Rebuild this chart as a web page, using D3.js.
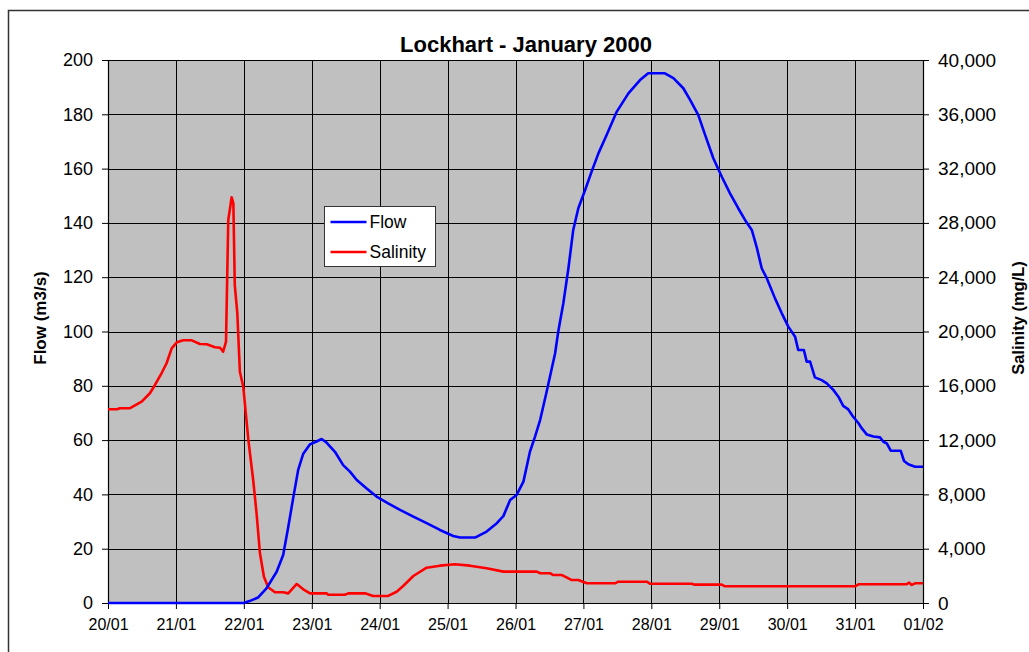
<!DOCTYPE html>
<html>
<head>
<meta charset="utf-8">
<script src="https://cdn.jsdelivr.net/npm/d3@7"></script>
<style>
  body { margin: 0; background: #fff; }
  svg { display: block; font-family: "Liberation Sans", Arial, Helvetica, sans-serif; }
</style>
</head>
<body>
<svg id="chart" width="1029" height="652"></svg>
<script>
// ---- data ---------------------------------------------------------------
const chartTitle = "Lockhart - January 2000";
const startDate = new Date(2000, 0, 20);
const endDate = new Date(2000, 1, 1);
const flowTicks = [0, 20, 40, 60, 80, 100, 120, 140, 160, 180, 200];
const salinityTicks = [0, 4000, 8000, 12000, 16000, 20000, 24000, 28000, 32000, 36000, 40000];
const seriesNames = ["Flow", "Salinity"];

// hours after 20/01 00:00, flow in m3/s
const flowHours = [0, 48, 50, 53, 56, 59.6, 61.9, 63.7, 65.5, 67.2, 69, 71.4, 73.1, 75.5, 77.3,
  80.2, 83.1, 85.5, 87.9, 91.4, 94.9, 99, 103.2, 107.9, 112.6, 117.3, 122, 124.4, 129.7, 133.8,
  137.4, 139.7, 142.1, 144.4, 146.8, 149.1, 150.9, 152.7, 155, 158, 159.1, 160.9, 162.7, 164.4,
  166.2, 168.6, 170.9, 173.3, 176.2, 179.8, 183.9, 188, 190.9, 196.8, 199.8, 203.3, 205.7, 208.6,
  211, 213.9, 216.9, 219.8, 222.7, 225.1, 227.5, 229.2, 231, 232.8, 235.7, 238.1, 240.4, 242.8,
  243.9, 245.9, 246.9, 248.1, 249.8, 252.2, 254, 256.3, 258.1, 259.8, 261.6, 263.2, 265.2, 266.4,
  268.1, 270.5, 272.8, 274, 275.2, 276.6, 280.1, 281.3, 282.8, 285.2, 288];
const flowValues = [0, 0, 0.7, 2, 5.4, 11.5, 17.7, 28, 39, 49, 55, 58.5, 59.2, 60.4, 59,
  55.7, 50.8, 48.4, 45.3, 42.2, 39.2, 36.7, 34.3, 31.8, 29.4, 26.9, 24.7, 24.1, 24.1, 26.3,
  29.4, 32, 37.9, 39.8, 44.7, 55.7, 61.3, 67.4, 77.8, 92, 99.9, 110.4, 123.3, 137.4,
  145.4, 152.1, 158.9, 165.6, 172.4, 181, 187.7, 192.6, 195.1, 195.1, 193.3, 189.6, 185.3, 179.7,
  172.4, 163.8, 157, 150.9, 145.4, 141.1, 137.4, 131.2, 123.3, 119.6, 112.2, 106.7, 101.8, 98.1,
  93.2, 93.2, 88.9, 88.9, 83.1, 82.1, 80.9, 78.5, 76, 72.6, 71.3, 68.8, 66.2, 64.3,
  62.1, 61.3, 61, 59.4, 58.8, 56.1, 56.1, 52.3, 51.1, 50.2, 50.2];

// hours after 20/01 00:00, salinity in mg/L
const salinityHours = [0, 3.2, 4.2, 7.8, 11.9, 14.8, 16.6, 19, 20.7, 22.5, 24.3, 26.6, 29.6, 32.5,
  34.9, 37.8, 39.6, 40.7, 41.7, 42.5, 43.7, 44.3, 44.8, 45.7, 46.6, 47.8, 49.6, 51.3, 52.5, 53.7,
  55.1, 56.6, 59, 61.9, 63.7, 66.7, 69, 71.4, 77.3, 77.8, 83.7, 84.9, 90.8, 93.7, 99, 102, 104.3,
  107.9, 112.6, 117.3, 122.6, 127.9, 133.8, 139.7, 151.5, 152.7, 156.2, 157.4, 160.4, 161.5, 163.9,
  166.2, 169.2, 179.2, 180.3, 190.4, 191.5, 206.3, 207.1, 216.9, 218, 264, 265.2, 282.2, 283.1,
  284, 285.2, 288];
const salinityValues = [14270, 14270, 14350, 14350, 14830, 15450, 16060, 16960, 17660, 18760, 19200, 19350, 19350, 19080,
  19060, 18840, 18800, 18510, 19250, 28210, 29890, 29440, 23420, 21340, 17040, 15930, 12010, 9060, 6610, 3660,
  1940, 1160, 790, 790, 710, 1400, 1010, 710, 710, 610, 610, 710, 710, 520, 520, 830, 1250,
  1990, 2600, 2750, 2850, 2750, 2560, 2310, 2310, 2190, 2190, 2060, 2060, 1940, 1690,
  1690, 1450, 1450, 1570, 1570, 1420, 1420, 1350, 1350, 1230, 1230, 1380, 1380, 1500,
  1330, 1450, 1450];

// ---- layout -------------------------------------------------------------
const plot = { left: 108, right: 923, top: 60, bottom: 603 };
const colors = { flow: "#0000ff", salinity: "#ff0000", plotBg: "#c0c0c0", grid: "#000" };

const svg = d3.select("#chart");

const x = d3.scaleTime().domain([startDate, endDate]).range([plot.left, plot.right]);
const yFlow = d3.scaleLinear().domain([0, 200]).range([plot.bottom, plot.top]);
const ySal = d3.scaleLinear().domain([0, 40000]).range([plot.bottom, plot.top]);
const atHour = h => startDate.getTime() + h * 3600000;

// outer chart frame
svg.append("rect")
  .attr("x", 8.5).attr("y", 10.5)
  .attr("width", 1100).attr("height", 700)
  .attr("fill", "#fff").attr("stroke", "#333").attr("stroke-width", 1.5);

// plot area
svg.append("rect")
  .attr("x", plot.left).attr("y", plot.top)
  .attr("width", plot.right - plot.left).attr("height", plot.bottom - plot.top)
  .attr("fill", colors.plotBg);

// gridlines
const grid = svg.append("g").attr("stroke", colors.grid).attr("stroke-width", 1);
grid.selectAll("line.h").data(flowTicks).join("line")
  .attr("class", "h")
  .attr("x1", plot.left).attr("x2", plot.right)
  .attr("y1", d => Math.round(yFlow(d)) + 0.5).attr("y2", d => Math.round(yFlow(d)) + 0.5);
const days = d3.timeDay.range(startDate, d3.timeDay.offset(endDate, 1));
grid.selectAll("line.v").data(days).join("line")
  .attr("class", "v")
  .attr("y1", plot.top).attr("y2", plot.bottom)
  .attr("x1", d => Math.round(x(d)) + 0.5).attr("x2", d => Math.round(x(d)) + 0.5);

// axes
const axisLeft = d3.axisLeft(yFlow).tickValues(flowTicks).tickSize(6).tickSizeOuter(0).tickPadding(9);
const axisRight = d3.axisRight(ySal).tickValues(salinityTicks).tickSize(6).tickSizeOuter(0).tickPadding(9)
  .tickFormat(d3.format(","));
const axisBottom = d3.axisBottom(x).tickValues(days).tickSize(6).tickSizeOuter(0).tickPadding(10)
  .tickFormat(d3.timeFormat("%d/%m"));

function styleAxis(g, size) {
  g.selectAll("path.domain").attr("stroke", "#000").attr("stroke-width", 1.2);
  g.selectAll(".tick line").attr("stroke", "#000");
  g.selectAll(".tick text")
    .attr("fill", "#000")
    .style("font-family", '"Liberation Sans", Arial, sans-serif')
    .style("font-size", size + "px");
}

svg.append("g").attr("transform", `translate(${plot.left},0)`).call(axisLeft).call(g => styleAxis(g, 18));
svg.append("g").attr("transform", `translate(${plot.right},0)`).call(axisRight).call(g => styleAxis(g, 19));
svg.append("g").attr("transform", `translate(0,${plot.bottom})`).call(axisBottom).call(g => styleAxis(g, 16));

// series lines
const flowData = flowHours.map((h, i) => ({ t: atHour(h), v: flowValues[i] }));
const salData = salinityHours.map((h, i) => ({ t: atHour(h), v: salinityValues[i] }));

svg.append("path").datum(salData)
  .attr("fill", "none").attr("stroke", colors.salinity).attr("stroke-width", 2.6)
  .attr("stroke-linejoin", "round")
  .attr("d", d3.line().x(d => x(d.t)).y(d => ySal(d.v)));

svg.append("path").datum(flowData)
  .attr("fill", "none").attr("stroke", colors.flow).attr("stroke-width", 2.6)
  .attr("stroke-linejoin", "round")
  .attr("d", d3.line().x(d => x(d.t)).y(d => yFlow(d.v)));

// title
svg.append("text")
  .attr("x", 526).attr("y", 52)
  .attr("text-anchor", "middle")
  .style("font-size", "22px").style("font-weight", "bold")
  .text(chartTitle);

// axis titles
svg.append("text")
  .attr("transform", "translate(46,318) rotate(-90)")
  .attr("text-anchor", "middle")
  .style("font-size", "17px").style("font-weight", "bold")
  .text("Flow (m3/s)");
svg.append("text")
  .attr("transform", "translate(1024,318) rotate(-90)")
  .attr("text-anchor", "middle")
  .style("font-size", "16.5px").style("font-weight", "bold")
  .text("Salinity (mg/L)");

// legend
const legend = svg.append("g").attr("transform", "translate(324.5,206.5)");
legend.append("rect").attr("width", 111).attr("height", 60)
  .attr("fill", "#fff").attr("stroke", "#333").attr("stroke-width", 1);
const legendColors = [colors.flow, colors.salinity];
seriesNames.forEach((name, i) => {
  const yy = 15.5 + i * 30;
  legend.append("line").attr("x1", 6).attr("x2", 42).attr("y1", yy).attr("y2", yy)
    .attr("stroke", legendColors[i]).attr("stroke-width", 2.6);
  legend.append("text").attr("x", 45).attr("y", yy + 6)
    .style("font-size", "17.5px").text(name);
});
</script>
</body>
</html>
